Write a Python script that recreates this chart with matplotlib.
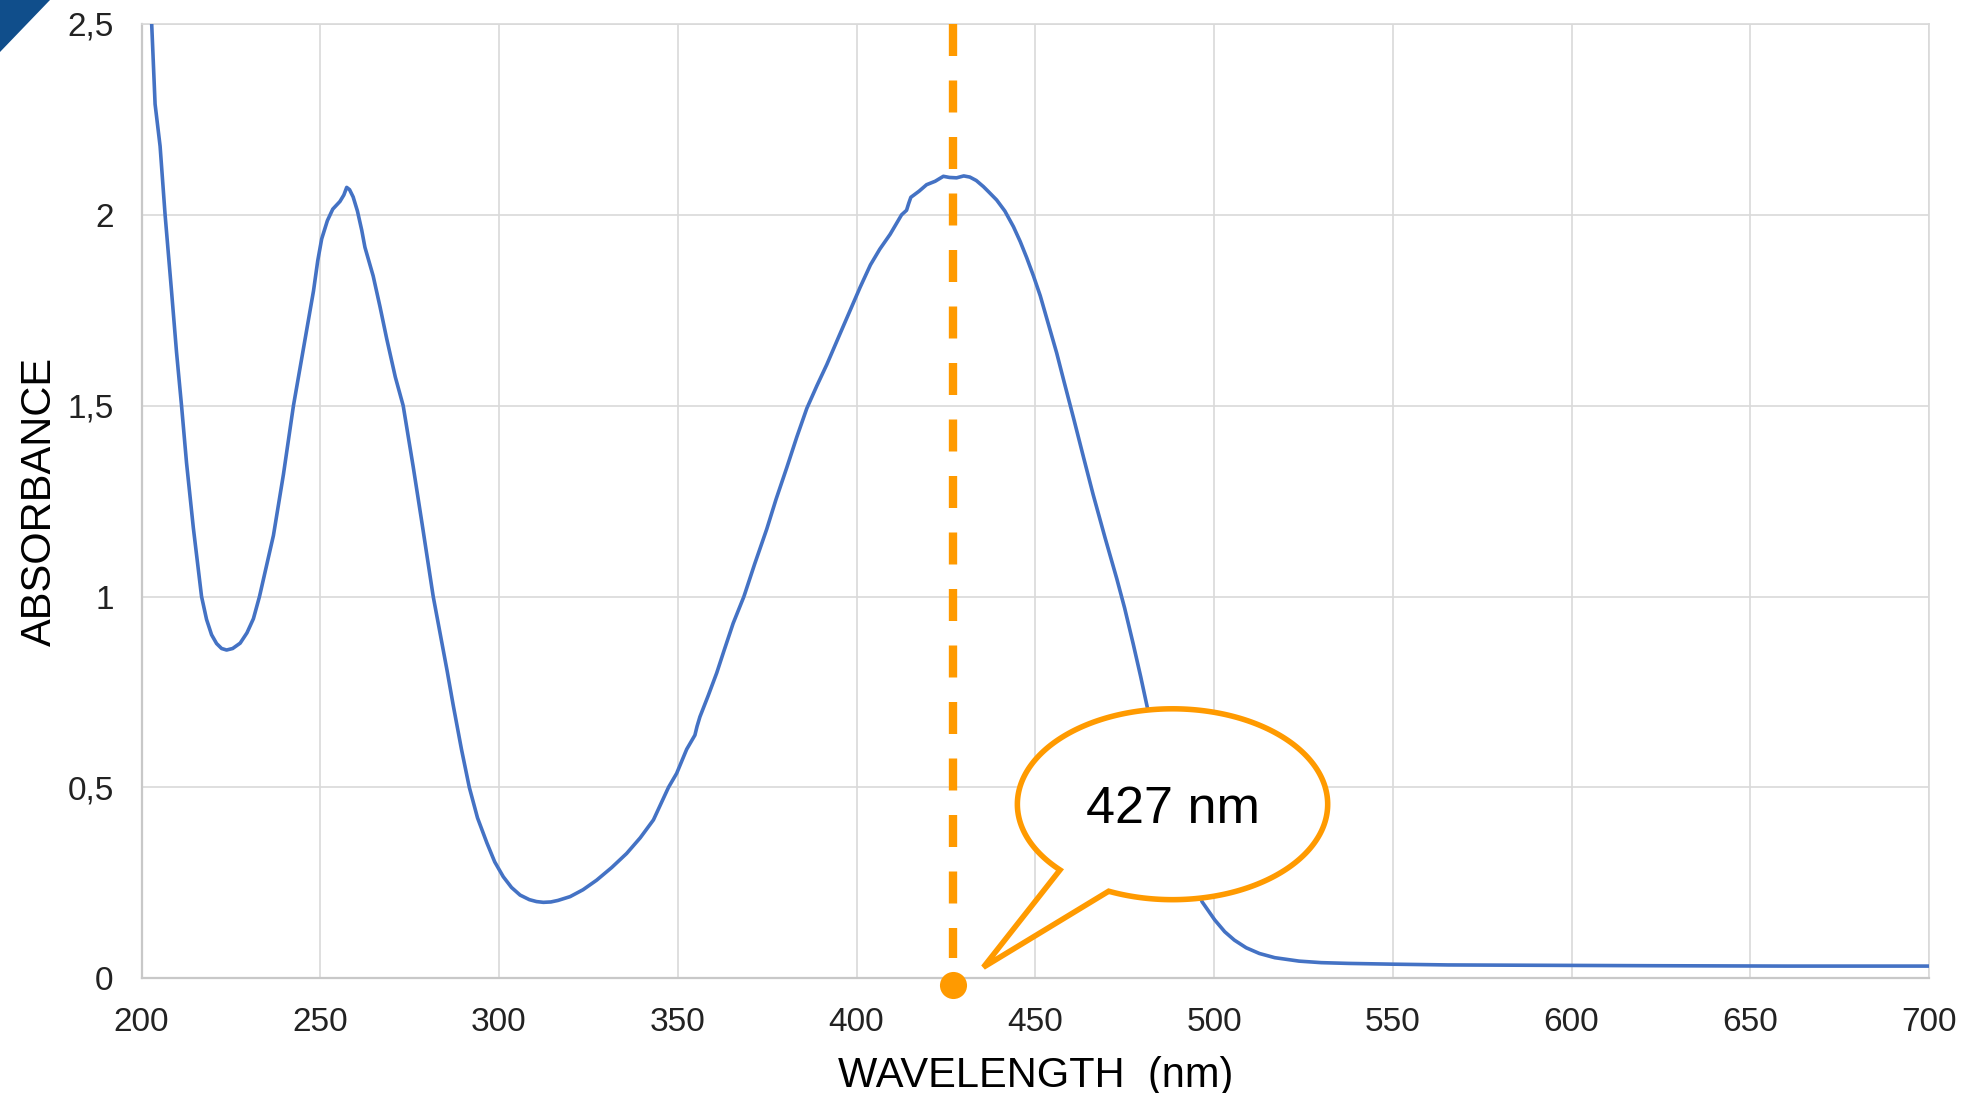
import numpy as np
import matplotlib
matplotlib.use("Agg")
import matplotlib.pyplot as plt
from matplotlib.patches import PathPatch, Polygon
from matplotlib.path import Path

# Absorption spectrum (wavelength in nm, absorbance)
wavelength_nm = [
    202.0, 202.85, 203.8, 205.2, 206.6, 208.4, 209.8, 211.2, 212.6, 214.5,
    216.8, 218.2, 219.6, 221.0, 222.4, 223.8, 225.5, 227.6, 229.5, 231.3,
    233.0, 234.7, 236.9, 239.7, 242.5, 245.3, 248.1, 249.3, 250.4, 252.0,
    253.5, 255.5, 256.6, 257.4, 258.2, 259.2, 260.4, 261.6, 262.5, 264.8,
    266.7, 268.6, 271.0, 273.2, 276.0, 278.5, 281.6, 283.5, 285.5, 287.2,
    289.5, 291.7, 294.0, 296.6, 298.8, 301.2, 303.5, 305.9, 308.5, 310.5,
    312.4, 314.5, 316.5, 319.9, 323.5, 327.3, 331.5, 335.7, 339.5, 343.2,
    347.4, 349.7, 352.5, 354.8, 355.4, 356.2, 358.5, 360.9, 363.0, 365.5,
    368.5, 371.5, 374.9, 377.5, 380.5, 383.3, 386.1, 388.9, 391.7, 395.0,
    398.2, 401.0, 403.9, 406.5, 409.4, 412.6, 414.0, 414.6, 415.2, 417.5,
    419.6, 422.0, 424.3, 426.0, 428.0, 430.0, 431.7, 433.5, 435.5, 437.0,
    439.2, 441.5, 443.9, 445.8, 447.6, 449.5, 451.4, 453.5, 456.0, 458.0,
    460.7, 463.5, 466.2, 469.5, 472.8, 475.0, 477.4, 479.5, 481.2, 484.0,
    487.0, 490.0, 493.0, 496.7, 500.2, 503.0, 505.7, 509.0, 512.7, 517.0,
    523.8, 530.0, 537.7, 550.0, 565.5, 590.0, 621.2, 660.0, 700.0,
]
absorbance = [
    2.62, 2.50, 2.29, 2.18, 2.00, 1.80, 1.64, 1.50, 1.35, 1.18,
    1.00, 0.94, 0.90, 0.877, 0.864, 0.860, 0.864, 0.878, 0.905, 0.942,
    1.00, 1.07, 1.16, 1.32, 1.50, 1.65, 1.80, 1.88, 1.937, 1.985,
    2.015, 2.035, 2.052, 2.072, 2.066, 2.047, 2.01, 1.96, 1.915, 1.84,
    1.76, 1.675, 1.575, 1.50, 1.34, 1.19, 1.00, 0.905, 0.805, 0.715,
    0.60, 0.50, 0.42, 0.355, 0.305, 0.266, 0.238, 0.218, 0.206, 0.201,
    0.199, 0.200, 0.204, 0.214, 0.232, 0.257, 0.290, 0.327, 0.368, 0.415,
    0.50, 0.537, 0.60, 0.637, 0.66, 0.685, 0.74, 0.80, 0.86, 0.93,
    1.00, 1.085, 1.177, 1.255, 1.338, 1.418, 1.493, 1.552, 1.608, 1.68,
    1.749, 1.81, 1.869, 1.91, 1.949, 2.00, 2.012, 2.03, 2.046, 2.062,
    2.079, 2.088, 2.101, 2.098, 2.097, 2.102, 2.099, 2.09, 2.074, 2.06,
    2.039, 2.01, 1.969, 1.93, 1.888, 1.84, 1.788, 1.72, 1.638, 1.565,
    1.468, 1.365, 1.267, 1.155, 1.047, 0.97, 0.876, 0.79, 0.716, 0.60,
    0.48, 0.37, 0.28, 0.200, 0.153, 0.122, 0.100, 0.080, 0.065, 0.054,
    0.045, 0.041, 0.039, 0.037, 0.035, 0.034, 0.033, 0.032, 0.032,
]

x_ticks = [200, 250, 300, 350, 400, 450, 500, 550, 600, 650, 700]
y_ticks = [0, 0.5, 1, 1.5, 2, 2.5]
y_tick_labels = ["0", "0,5", "1", "1,5", "2", "2,5"]
x_label = "WAVELENGTH  (nm)"
y_label = "ABSORBANCE"
peak_nm = 427
peak_label = "427 nm"

LINE_BLUE = "#4472C4"
ORANGE = "#FF9A00"
GRID = "#D9D9D9"

plt.rcParams["font.family"] = ["Liberation Sans", "DejaVu Sans"]

W, H, DPI = 1964, 1093, 100
fig = plt.figure(figsize=(W / DPI, H / DPI), dpi=DPI)
fig.patch.set_facecolor("white")

# corner tab
fig.patches.append(Polygon([(0, 1), (50 / W, 1), (0, 1 - 52 / H)],
                           closed=True, transform=fig.transFigure,
                           facecolor="#104E8B", edgecolor="none"))

left, right, bottom, top = 141.5, 1929.0, 978.3, 24.0
ax = fig.add_axes([left / W, 1 - bottom / H, (right - left) / W, (bottom - top) / H])

ax.plot(wavelength_nm, absorbance, color=LINE_BLUE, lw=2.6, zorder=3,
        solid_joinstyle="round", solid_capstyle="round")

ax.set_xlim(200, 700)
ax.set_ylim(0, 2.5)
ax.set_xticks(x_ticks)
ax.set_xticklabels([str(v) for v in x_ticks])
ax.set_yticks(y_ticks)
ax.set_yticklabels(y_tick_labels)
ax.tick_params(axis="both", length=0, labelsize=24, colors="#222222")
ax.tick_params(axis="x", pad=20.5)
ax.tick_params(axis="y", pad=20)

ax.grid(True, color=GRID, lw=1.2, zorder=0)
ax.set_axisbelow(True)
for side in ("top", "right"):
    ax.spines[side].set_color(GRID)
    ax.spines[side].set_linewidth(1.2)
for side in ("left", "bottom"):
    ax.spines[side].set_color("#C8C8C8")
    ax.spines[side].set_linewidth(1.6)

ax.set_xlabel(x_label, fontsize=30, color="black")
ax.xaxis.set_label_coords(0.5, -0.102)
ax.xaxis.label.set_va("center")
ax.set_ylabel(y_label, fontsize=30, color="black")
ax.yaxis.set_label_coords(-0.0568, 0.5)
ax.yaxis.label.set_va("center")

# peak marker: dashed guide and dot on the axis
ax.plot([peak_nm, peak_nm], [2.5, 0.052], color=ORANGE, lw=6,
        linestyle=(0, (3.84, 2.94)), dash_capstyle="butt", zorder=4,
        clip_on=False)
ax.plot([peak_nm], [-0.018], marker="o", ms=19.5, color=ORANGE,
        markeredgewidth=0, zorder=6, clip_on=False)

# speech-bubble callout
cx, cy = peak_nm + 61.4, 0.456
a, b = 43.4, 0.250
t = np.radians(np.linspace(-114.3, 223.5, 300))
ex = cx + a * np.cos(t)
ey = cy + b * np.sin(t)
tip = (peak_nm + 8.5, 0.029)
verts = list(zip(ex, ey)) + [tip, (ex[0], ey[0])]
codes = [Path.MOVETO] + [Path.LINETO] * (len(verts) - 2) + [Path.CLOSEPOLY]
bubble = PathPatch(Path(verts, codes), facecolor="white", edgecolor=ORANGE,
                   lw=4.0, joinstyle="miter", zorder=5)
ax.add_patch(bubble)
ax.text(cx, cy - 0.015, peak_label, fontsize=37.5, color="black",
        ha="center", va="center", zorder=7)

fig.savefig("out.png", dpi=DPI)
